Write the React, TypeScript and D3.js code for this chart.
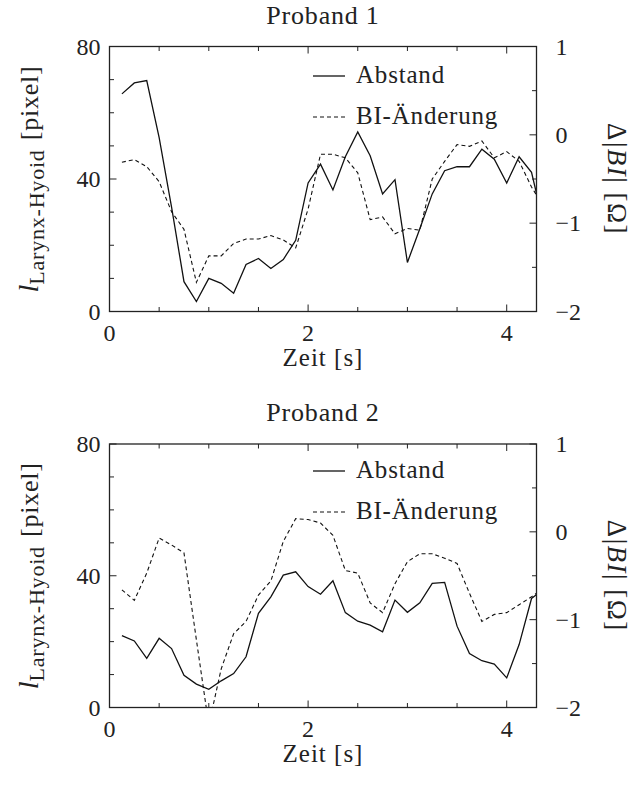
import React from 'react';
import * as d3 from 'd3';

// sample times [s]
const time = [
  0.125, 0.25, 0.375, 0.5, 0.625, 0.75, 0.875, 1.0, 1.125, 1.25, 1.375, 1.5,
  1.625, 1.75, 1.875, 2.0, 2.125, 2.25, 2.375, 2.5, 2.625, 2.75, 2.875, 3.0,
  3.125, 3.25, 3.375, 3.5, 3.625, 3.75, 3.875, 4.0, 4.125, 4.25, 4.375,
];

// Proband 1
const abstand1 = [
  65.7, 69.0, 69.7, 52.5, 31.5, 9.0, 3.0, 10.0, 8.5, 5.5, 14.2, 16.0,
  13.0, 15.7, 21.5, 38.8, 44.5, 36.7, 46.7, 54.2, 47.0, 35.5, 39.8, 14.8,
  25.0, 35.5, 42.5, 43.7, 43.7, 49.0, 46.0, 38.8, 46.7, 42.0, 26.0,
];
const bi1 = [
  -0.31, -0.28, -0.36, -0.53, -0.87, -1.07, -1.67, -1.37, -1.37, -1.23, -1.18, -1.18,
  -1.14, -1.19, -1.28, -0.84, -0.22, -0.22, -0.26, -0.43, -0.96, -0.93, -1.12, -1.06,
  -1.08, -0.5, -0.3, -0.11, -0.13, -0.07, -0.26, -0.19, -0.3, -0.59, -0.82,
];

// Proband 2
const abstand2 = [
  21.8, 20.2, 14.9, 21.0, 17.9, 9.8, 7.1, 5.5, 8.1, 10.3, 15.4, 28.6,
  33.6, 40.2, 41.2, 36.7, 34.4, 38.5, 28.8, 26.2, 25.0, 23.0, 32.6, 28.9,
  31.8, 37.7, 38.0, 24.7, 16.4, 14.2, 13.2, 9.0, 19.1, 33.1, 36.0,
];
const bi2 = [
  -0.66, -0.78, -0.47, -0.07, -0.15, -0.24, -1.23, -2.2, -1.56, -1.16, -1.02, -0.72,
  -0.56, -0.11, 0.15, 0.14, 0.1, -0.04, -0.44, -0.47, -0.81, -0.92, -0.59, -0.34,
  -0.25, -0.25, -0.3, -0.36, -0.7, -1.02, -0.94, -0.92, -0.83, -0.74, -0.64,
];

const xTicks = [0, 0.5, 1, 1.5, 2, 2.5, 3, 3.5, 4];
const xLabels = [0, 2, 4];
const leftTicks = [0, 10, 20, 30, 40, 50, 60, 70, 80];
const leftLabels = [0, 40, 80];
const rightTicks = [-2, -1.5, -1, -0.5, 0, 0.5, 1];
const rightLabels = [-2, -1, 0, 1];

const FONT = "'Liberation Serif', 'Times New Roman', 'DejaVu Serif', serif";
const INK = '#222';

const left = 109.5;
const right = 536.5;

function Panel({ title, top, bottom, abstand, bi, legendY, id }) {
  const x = d3.scaleLinear().domain([0, 4.3]).range([left, right]);
  const yl = d3.scaleLinear().domain([0, 80]).range([bottom, top]);
  const yr = d3.scaleLinear().domain([-2, 1]).range([bottom, top]);

  const lineL = d3.line<number>().x((_, i) => x(time[i])).y(d => yl(d));
  const lineR = d3.line<number>().x((_, i) => x(time[i])).y(d => yr(d));

  const midY = (top + bottom) / 2;
  const major = 7;
  const minor = 4.5;
  const fmt = (v: number) => (v < 0 ? '\u2212' + Math.abs(v) : String(v));

  return (
    <g>
      <defs>
        <clipPath id={id}>
          <rect x={left} y={top} width={right - left} height={bottom - top} />
        </clipPath>
      </defs>
      <text x={(left + right) / 2} y={top - 23} textAnchor="middle" fontSize={26} fill={INK} letterSpacing={0.8}>
        {title}
      </text>

      <g clipPath={`url(#${id})`} fill="none">
        <path d={lineL(abstand) || ''} stroke="#111" strokeWidth={1.3} />
        <path d={lineR(bi) || ''} stroke="#111" strokeWidth={1.1} strokeDasharray="4,3" />
      </g>

      {/* x ticks, bottom and top */}
      {xTicks.map(t => {
        const len = xLabels.includes(t) ? major : minor;
        return (
          <g key={'x' + t} stroke={INK} strokeWidth={1}>
            <line x1={x(t)} x2={x(t)} y1={bottom} y2={bottom - len} />
            <line x1={x(t)} x2={x(t)} y1={top} y2={top + len} />
          </g>
        );
      })}
      {xLabels.map(t => (
        <text key={'xl' + t} x={x(t)} y={bottom + 29} textAnchor="middle" fontSize={24} fill={INK}>
          {t}
        </text>
      ))}
      <text x={(left + right) / 2} y={bottom + 54} textAnchor="middle" fontSize={25} fill={INK} letterSpacing={1}>
        Zeit [s]
      </text>

      {/* left axis */}
      {leftTicks.map(v => (
        <line key={'l' + v} x1={left} x2={left + (leftLabels.includes(v) ? major : minor)}
          y1={yl(v)} y2={yl(v)} stroke={INK} strokeWidth={1} />
      ))}
      {leftLabels.map(v => (
        <text key={'ll' + v} x={left - 9} y={yl(v) + 8} textAnchor="end" fontSize={24} fill={INK}>
          {v}
        </text>
      ))}
      <text transform={`translate(38,${midY}) rotate(-90)`} textAnchor="middle" fill={INK} fontSize={26}>
        <tspan fontStyle="italic" fontSize={28}>l</tspan>
        <tspan fontSize={22} dy={6} letterSpacing={0.8}>Larynx-Hyoid</tspan>
        <tspan dy={-6} dx={9} letterSpacing={0.8}>[pixel]</tspan>
      </text>

      {/* right axis */}
      {rightTicks.map(v => (
        <line key={'r' + v} x1={right} x2={right - (rightLabels.includes(v) ? major : minor)}
          y1={yr(v)} y2={yr(v)} stroke={INK} strokeWidth={1} />
      ))}
      {rightLabels.map(v => (
        <text key={'rl' + v} x={right + 19} y={yr(v) + 8} textAnchor="start" fontSize={24} fill={INK}>
          {fmt(v)}
        </text>
      ))}
      <text transform={`translate(608,${midY}) rotate(90)`} textAnchor="middle" fill={INK} fontSize={27} letterSpacing={1.5}>
        <tspan>{'\u0394|'}</tspan>
        <tspan fontStyle="italic">BI</tspan>
        <tspan>{'| [\u03A9]'}</tspan>
      </text>

      {/* legend */}
      <line x1={313} x2={345} y1={legendY} y2={legendY} stroke="#111" strokeWidth={1.3} />
      <text x={356} y={legendY + 7} fontSize={25} fill={INK} letterSpacing={0.8}>Abstand</text>
      <line x1={313} x2={345} y1={legendY + 41} y2={legendY + 41} stroke="#111" strokeWidth={1.1} strokeDasharray="4,3" />
      <text x={356} y={legendY + 48} fontSize={25} fill={INK} letterSpacing={0.8}>BI-Änderung</text>

      {/* frame */}
      <rect x={left} y={top} width={right - left} height={bottom - top} fill="none" stroke={INK} strokeWidth={1.3} />
    </g>
  );
}

export default function App() {
  return (
    <svg width={643} height={787} style={{ position: 'absolute', left: 0, top: 0, background: '#fff', fontFamily: FONT }}>
      <rect width={643} height={787} fill="#fff" />
      <Panel id="c1" title="Proband 1" top={46.5} bottom={311.5} abstand={abstand1} bi={bi1} legendY={76} />
      <Panel id="c2" title="Proband 2" top={444} bottom={707.5} abstand={abstand2} bi={bi2} legendY={471} />
    </svg>
  );
}
